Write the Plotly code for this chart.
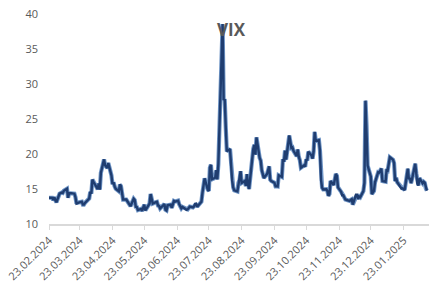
import plotly.graph_objects as go

dates = [
"2024-02-23","2024-02-26","2024-02-27","2024-02-28","2024-02-29",
"2024-03-01","2024-03-04","2024-03-05","2024-03-06","2024-03-07","2024-03-08",
"2024-03-11","2024-03-12","2024-03-13","2024-03-14","2024-03-15",
"2024-03-18","2024-03-19","2024-03-20","2024-03-21","2024-03-22",
"2024-03-25","2024-03-26","2024-03-27","2024-03-28",
"2024-04-01","2024-04-02","2024-04-03","2024-04-04","2024-04-05",
"2024-04-08","2024-04-09","2024-04-10","2024-04-11","2024-04-12",
"2024-04-15","2024-04-16","2024-04-17","2024-04-18","2024-04-19",
"2024-04-22","2024-04-23","2024-04-24","2024-04-25","2024-04-26",
"2024-04-29","2024-04-30","2024-05-01","2024-05-02","2024-05-03",
"2024-05-06","2024-05-07","2024-05-08","2024-05-09","2024-05-10",
"2024-05-13","2024-05-14","2024-05-15","2024-05-16","2024-05-17",
"2024-05-20","2024-05-21","2024-05-22","2024-05-23","2024-05-24",
"2024-05-28","2024-05-29","2024-05-30","2024-05-31",
"2024-06-03","2024-06-04","2024-06-05","2024-06-06","2024-06-07",
"2024-06-10","2024-06-11","2024-06-12","2024-06-13","2024-06-14",
"2024-06-17","2024-06-18","2024-06-20","2024-06-21",
"2024-06-24","2024-06-25","2024-06-26","2024-06-27","2024-06-28",
"2024-07-01","2024-07-02","2024-07-03","2024-07-05",
"2024-07-08","2024-07-09","2024-07-10","2024-07-11","2024-07-12",
"2024-07-15","2024-07-16","2024-07-17","2024-07-18","2024-07-19",
"2024-07-22","2024-07-23","2024-07-24","2024-07-25","2024-07-26",
"2024-07-29","2024-07-30","2024-07-31","2024-08-01","2024-08-02",
"2024-08-05","2024-08-06","2024-08-07","2024-08-08","2024-08-09",
"2024-08-12","2024-08-13","2024-08-14","2024-08-15","2024-08-16",
"2024-08-19","2024-08-20","2024-08-21","2024-08-22","2024-08-23",
"2024-08-26","2024-08-27","2024-08-28","2024-08-29","2024-08-30",
"2024-09-03","2024-09-04","2024-09-05","2024-09-06",
"2024-09-09","2024-09-10","2024-09-11","2024-09-12","2024-09-13",
"2024-09-16","2024-09-17","2024-09-18","2024-09-19","2024-09-20",
"2024-09-23","2024-09-24","2024-09-25","2024-09-26","2024-09-27",
"2024-09-30","2024-10-01","2024-10-02","2024-10-03","2024-10-04",
"2024-10-07","2024-10-08","2024-10-09","2024-10-10","2024-10-11",
"2024-10-14","2024-10-15","2024-10-16","2024-10-17","2024-10-18",
"2024-10-21","2024-10-22","2024-10-23","2024-10-24","2024-10-25",
"2024-10-28","2024-10-29","2024-10-30","2024-10-31","2024-11-01",
"2024-11-04","2024-11-05","2024-11-06","2024-11-07","2024-11-08",
"2024-11-11","2024-11-12","2024-11-13","2024-11-14","2024-11-15",
"2024-11-18","2024-11-19","2024-11-20","2024-11-21","2024-11-22",
"2024-11-25","2024-11-26","2024-11-27","2024-11-29",
"2024-12-02","2024-12-03","2024-12-04","2024-12-05","2024-12-06",
"2024-12-09","2024-12-10","2024-12-11","2024-12-12","2024-12-13",
"2024-12-16","2024-12-17","2024-12-18","2024-12-19","2024-12-20",
"2024-12-23","2024-12-24","2024-12-26","2024-12-27",
"2024-12-30","2024-12-31","2025-01-02","2025-01-03",
"2025-01-06","2025-01-07","2025-01-08","2025-01-10",
"2025-01-13","2025-01-14","2025-01-15","2025-01-16","2025-01-17",
"2025-01-21","2025-01-22","2025-01-23","2025-01-24",
"2025-01-27","2025-01-28","2025-01-29","2025-01-30","2025-01-31",
"2025-02-03","2025-02-04","2025-02-05","2025-02-06","2025-02-07",
"2025-02-10","2025-02-11","2025-02-12","2025-02-13","2025-02-14",
]

vix = [
13.75,13.74,13.43,13.84,13.40,
13.11,14.33,14.46,14.50,14.44,14.74,
15.02,13.75,14.40,14.41,14.41,
14.33,13.82,12.92,13.06,13.06,
13.19,12.78,12.78,13.01,
13.65,14.61,14.33,16.35,16.03,
15.19,14.98,15.80,14.91,17.31,
19.23,18.40,18.21,18.00,18.71,
16.94,15.69,15.97,15.37,15.03,
14.67,15.65,15.39,14.68,13.49,
13.49,13.23,13.00,12.69,12.55,
13.60,13.42,12.45,12.42,11.99,
12.15,11.86,12.29,12.77,11.93,
12.92,14.28,13.49,12.92,
13.11,13.16,12.63,12.58,12.22,
12.74,12.85,12.04,11.94,12.66,
12.75,12.30,13.28,13.20,
13.33,12.84,12.55,12.24,12.44,
12.22,12.03,12.09,12.48,
12.37,12.51,12.85,12.89,12.46,
13.12,13.19,14.48,15.93,16.52,
14.91,14.72,18.04,18.46,16.39,
16.60,17.69,16.36,18.59,23.39,
38.57,27.71,27.85,23.79,20.37,
20.71,18.12,16.19,15.23,14.80,
14.65,15.88,16.27,17.55,15.86,
16.15,15.43,17.11,15.65,15.00,
20.72,21.32,19.90,22.38,
19.45,19.08,17.69,17.07,16.56,
17.14,17.61,18.23,16.33,16.15,
15.89,15.39,15.41,15.37,16.96,
16.73,19.26,18.90,20.49,19.21,
22.64,21.42,20.86,20.93,20.46,
19.70,20.64,19.58,19.11,18.03,
18.37,18.20,19.24,19.08,20.33,
19.80,19.34,20.35,23.16,21.88,
21.98,20.49,16.27,15.20,14.94,
14.97,14.71,14.02,14.31,16.14,
15.58,16.35,17.16,16.87,15.24,
14.60,14.10,14.10,13.51,
13.34,13.30,13.45,13.54,12.77,
14.19,14.18,13.58,13.92,13.81,
14.69,15.87,27.62,24.09,18.36,
16.78,14.27,14.73,15.95,
17.40,17.35,17.93,16.13,
16.04,17.82,17.70,19.54,
19.19,18.71,16.12,16.60,15.97,
15.06,15.10,15.02,14.85,
17.90,16.41,16.56,15.84,16.43,
18.62,17.21,15.77,15.50,16.54,
15.81,16.02,15.89,15.10,14.77,
]

tick_dates = ["2024-02-23","2024-03-23","2024-04-23","2024-05-23","2024-06-23",
              "2024-07-23","2024-08-23","2024-09-23","2024-10-23","2024-11-23",
              "2024-12-23","2025-01-23"]
tick_labels = ["23.02.2024","23.03.2024","23.04.2024","23.05.2024","23.06.2024",
               "23.07.2024","23.08.2024","23.09.2024","23.10.2024","23.11.2024",
               "23.12.2024","23.01.2025"]
y_ticks = [10, 15, 20, 25, 30, 35, 40]

fig = go.Figure()
fig.add_trace(go.Scatter(x=dates, y=vix, mode="lines",
                         line=dict(color="#6F95C6", width=4.2),
                         hoverinfo="skip", showlegend=False))
fig.add_trace(go.Scatter(x=dates, y=vix, mode="lines",
                         line=dict(color="#1F3D70", width=2.4),
                         showlegend=False))

fig.update_layout(
    width=429, height=285,
    margin=dict(l=49, r=0, t=14, b=61),
    paper_bgcolor="white", plot_bgcolor="white",
    font=dict(family="Open Sans", size=11, color="#595959"),
    showlegend=False,
    xaxis=dict(
        range=["2024-02-23", "2025-02-16"],
        tickmode="array", tickvals=tick_dates, ticktext=tick_labels,
        tickangle=-45, showgrid=False, zeroline=False, automargin=False,
        showline=True, linecolor="#D9D9D9", linewidth=1.5,
        ticks="outside", ticklen=4, tickcolor="#D9D9D9",
        tickfont=dict(family="Open Sans", size=11, color="#595959"),
    ),
    yaxis=dict(
        range=[10, 40], tickmode="array", tickvals=y_ticks, automargin=False,
        showgrid=False, zeroline=False, showline=False,
        ticks="", ticklabelstandoff=10,
        tickfont=dict(family="Open Sans", size=11, color="#595959"),
    ),
    annotations=[dict(text="<b>VIX</b>", x=(231 - 49) / 380, y=(224 - 30) / 210,
                      xref="paper", yref="paper", xanchor="center", yanchor="middle",
                      showarrow=False, font=dict(family="Open Sans", size=17, color="#595959"))],
)

fig.write_html("out.html", config={"displayModeBar": False},
               post_script="document.body.style.margin='0';document.body.style.overflow='hidden';")
